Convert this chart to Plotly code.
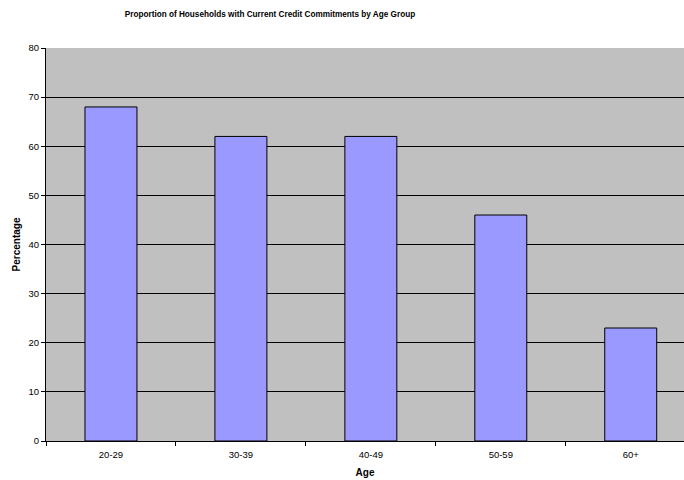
import plotly.graph_objects as go

age_groups = ["20-29", "30-39", "40-49", "50-59", "60+"]
percentages = [68, 62, 62, 46, 23]

fig = go.Figure(
    go.Bar(
        x=age_groups,
        y=percentages,
        width=0.4,
        marker=dict(color="#9999FF", line=dict(color="#000000", width=1)),
    )
)

font_family = "Liberation Sans, Arial, sans-serif"

fig.update_layout(
    width=684,
    height=480,
    margin=dict(l=46, r=0, t=48, b=39),
    paper_bgcolor="white",
    plot_bgcolor="#C0C0C0",
    showlegend=False,
    font=dict(family=font_family, size=10, color="black"),
    title=dict(
        text="<b>Proportion of Households with Current Credit Commitments by Age Group</b>",
        x=270 / 684, xanchor="center", xref="container",
        y=1 - 14 / 480, yanchor="middle", yref="container",
        font=dict(size=8.2, family=font_family),
    ),
)

fig.update_xaxes(
    type="category",
    range=[-0.5, 4.41],
    showgrid=False,
    showline=True, linecolor="black", linewidth=1,
    ticks="outside", tickson="boundaries", ticklen=4, tickcolor="black",
    tickfont=dict(size=9.5),
    ticklabelstandoff=5,
    title=dict(text="<b>Age</b>", font=dict(size=10), standoff=9),
)

fig.update_yaxes(
    range=[0, 80],
    dtick=10,
    showgrid=True, gridcolor="black", gridwidth=1,
    showline=True, linecolor="black", linewidth=1,
    ticks="outside", ticklen=4, tickcolor="black",
    tickfont=dict(size=9.5),
    zeroline=False,
    title=dict(text="<b>Percentage</b>", font=dict(size=10), standoff=6),
)

fig.write_html("out.html")
